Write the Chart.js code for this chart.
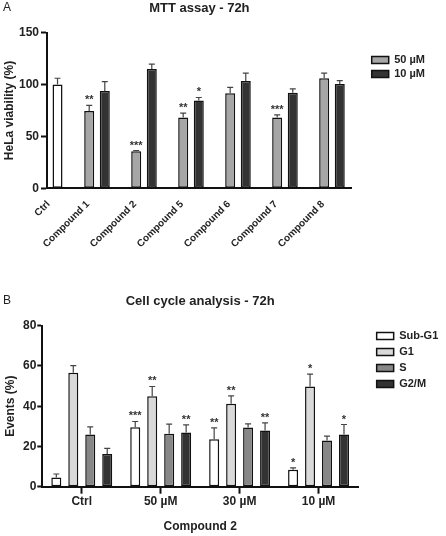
<!DOCTYPE html>
<html>
<head>
<meta charset="utf-8">
<title>MTT assay / Cell cycle analysis</title>
<script src="https://cdn.jsdelivr.net/npm/chart.js@4.4.1/dist/chart.umd.min.js"></script>
<style>
  html, body { margin: 0; padding: 0; background: #fff; }
  #page { position: relative; width: 446px; height: 536px; overflow: hidden; font-family: "Liberation Sans", Arial, sans-serif; }
  canvas { position: absolute; left: 0; }
  .painel { position: absolute; left: 3px; font-size: 12px; color: #222; }
</style>
</head>
<body>
<div id="page">
  <canvas id="graficoMtt" width="446" height="262" style="top:0px"></canvas>
  <canvas id="graficoCiclo" width="446" height="266" style="top:270px"></canvas>
  <div class="painel" style="top:0px">A</div>
  <div class="painel" style="top:293px">B</div>
</div>
<script>
// ======================================
// Data - A: MTT assay (72h)
// ======================================
const compounds = ["Ctrl", "Compound 1", "Compound 2", "Compound 5", "Compound 6", "Compound 7", "Compound 8"];
const ctrlViability = [100];
const ctrlError = [6];
const viability50 = [74.5, 35.7, 68.3, 91.5, 68.3, 106];
const error50 = [5.3, 0.7, 4.1, 5.7, 2.5, 5];
const stars50 = ["**", "***", "**", "", "***", ""];
const viability10 = [93.7, 115, 84.6, 103.3, 92, 100.6];
const error10 = [9, 4.6, 2.9, 7.7, 3.8, 3.2];
const stars10 = ["", "", "*", "", "", ""];
const viabilityTicks = [0, 50, 100, 150];

// ======================================
// Data - B: Cell cycle analysis (72h)
// ======================================
const doses = ["Ctrl", "50 µM", "30 µM", "10 µM"];
const subG1 = [4.6, 29.6, 23.6, 8.4];
const subG1Err = [1.7, 2.8, 5.6, 1.0];
const subG1Stars = ["", "***", "**", "*"];
const g1 = [56.6, 45, 41.2, 49.8];
const g1Err = [3.6, 4.8, 3.9, 6.1];
const g1Stars = ["", "**", "**", "*"];
const sPhase = [25.9, 26.3, 29.4, 22.9];
const sErr = [3.8, 4.8, 1.8, 2.2];
const g2m = [16.2, 26.9, 27.9, 25.9];
const g2mErr = [2.8, 3.8, 3.8, 5];
const g2mStars = ["", "**", "**", "*"];
const eventTicks = [0, 20, 40, 60, 80];

Chart.defaults.font.family = '"Liberation Sans", Arial, sans-serif';
Chart.defaults.color = "#222";

// error bars (upper half) + significance stars
const errorBars = {
  id: "errorBars",
  afterDatasetsDraw(chart) {
    const ctx = chart.ctx;
    const yScale = chart.scales.y;
    chart.data.datasets.forEach((ds, di) => {
      const meta = chart.getDatasetMeta(di);
      meta.data.forEach((bar, i) => {
        const raw = ds.data[i];
        const v = (raw !== null && typeof raw === "object") ? raw.y : raw;
        if (v === null || v === undefined) return;
        const err = ds.errors ? ds.errors[i] : 0;
        const top = yScale.getPixelForValue(v + err);
        ctx.save();
        ctx.strokeStyle = "#444";
        ctx.lineWidth = 1.2;
        ctx.beginPath();
        ctx.moveTo(bar.x, bar.y);
        ctx.lineTo(bar.x, top);
        ctx.moveTo(bar.x - 3, top);
        ctx.lineTo(bar.x + 3, top);
        ctx.stroke();
        const star = ds.stars ? ds.stars[i] : "";
        if (star) {
          ctx.fillStyle = "#333";
          ctx.font = 'bold 11px "Liberation Sans", Arial, sans-serif';
          ctx.textAlign = "center";
          ctx.textBaseline = "alphabetic";
          ctx.fillText(star, bar.x, top - 2);
        }
        ctx.restore();
      });
    });
  }
};

const axisBorder = { display: true, color: "#111", width: 2 };
const tickGrid = { drawOnChartArea: false, drawTicks: true, tickWidth: 2, tickColor: "#111" };

// ======================================
// Chart A
// ======================================
const mttRight = 351.7;
const mttPadRight = 11;

function groupX(i) {
  return i === 0 ? 0.16 : i;
}

function pad(values, arr) {
  return compounds.map((c, i) => i === 0 ? null : arr[i - 1]);
}

new Chart(document.getElementById("graficoMtt"), {
  type: "bar",
  data: {
    datasets: [
      {
        label: "Ctrl",
        data: compounds.map((c, i) => ({ x: groupX(i), y: i === 0 ? ctrlViability[0] : null })),
        errors: compounds.map((c, i) => i === 0 ? ctrlError[0] : null),
        stars: compounds.map(() => ""),
        backgroundColor: "#ffffff",
        xAxisID: "x", yAxisID: "y"
      },
      {
        label: "50 µM",
        data: compounds.map((c, i) => ({ x: groupX(i), y: i === 0 ? null : viability50[i - 1] })),
        errors: pad(compounds, error50),
        stars: pad(compounds, stars50),
        backgroundColor: "#a6a6a6",
        xAxisID: "x", yAxisID: "y"
      },
      {
        label: "10 µM",
        data: compounds.map((c, i) => ({ x: groupX(i), y: i === 0 ? null : viability10[i - 1] })),
        errors: pad(compounds, error10),
        stars: pad(compounds, stars10),
        backgroundColor: "#333333",
        xAxisID: "x", yAxisID: "y"
      }
    ]
  },
  options: {
    responsive: false,
    animation: false,
    devicePixelRatio: 1,
    layout: { padding: { left: 0, right: mttPadRight, top: 0, bottom: 0 } },
    datasets: {
      bar: {
        borderColor: "#111",
        borderWidth: 1.5,
        borderSkipped: false,
        skipNull: true,
        categoryPercentage: 0.79,
        barPercentage: 0.7,
        maxBarThickness: 10
      }
    },
    scales: {
      x: {
        type: "linear",
        offset: false,
        min: -0.064,
        max: 6.42,
        afterFit: s => { s.height = 73.7; },
        afterBuildTicks: s => { s.ticks = compounds.map((c, i) => ({ value: groupX(i) })); },
        grid: { display: false, drawTicks: false, offset: false },
        border: axisBorder,
        ticks: {
          autoSkip: false,
          minRotation: 45,
          maxRotation: 45,
          padding: 10,
          labelOffset: -9,
          font: { size: 10, weight: "bold" },
          callback: (v, i) => compounds[i]
        }
      },
      y: {
        min: 0,
        max: 150,
        afterFit: s => { s.width = 47; },
        afterBuildTicks: s => { s.ticks = viabilityTicks.map(v => ({ value: v })); },
        grid: Object.assign({ tickLength: 6 }, tickGrid),
        border: axisBorder,
        ticks: { padding: 2, font: { size: 12, weight: "bold" } },
        title: {
          display: true,
          text: "HeLa viability (%)",
          font: { size: 12, weight: "bold" },
          padding: { top: 2, bottom: 0 }
        }
      },
      spacer: {
        type: "linear",
        axis: "y",
        position: "right",
        grid: { display: false, drawTicks: false },
        border: { display: false },
        ticks: { display: false },
        afterFit: s => {
          const lw = s.chart.legend ? s.chart.legend.width : 0;
          s.width = Math.max(0, s.chart.width - mttPadRight - lw - mttRight);
        }
      }
    },
    plugins: {
      title: {
        display: true,
        text: "MTT assay - 72h",
        fullSize: false,
        font: { size: 13, weight: "bold" },
        padding: { top: 1, bottom: 16 }
      },
      legend: {
        position: "right",
        align: "start",
        title: { display: true, text: "", font: { size: 10 }, padding: { top: 39.5, bottom: 0 } },
        labels: {
          boxWidth: 17,
          boxHeight: 7,
          padding: 3,
          font: { size: 11, weight: "bold" },
          filter: item => item.datasetIndex !== 0
        }
      },
      tooltip: { enabled: false }
    }
  },
  plugins: [errorBars]
});

// ======================================
// Chart B
// ======================================
const cicloRight = 358;
const cicloPadRight = 0;

new Chart(document.getElementById("graficoCiclo"), {
  type: "bar",
  data: {
    labels: doses,
    datasets: [
      { label: "Sub-G1", data: subG1, errors: subG1Err, stars: subG1Stars, backgroundColor: "#ffffff", yAxisID: "y" },
      { label: "G1", data: g1, errors: g1Err, stars: g1Stars, backgroundColor: "#d9d9d9", yAxisID: "y" },
      { label: "S", data: sPhase, errors: sErr, stars: [], backgroundColor: "#878787", yAxisID: "y" },
      { label: "G2/M", data: g2m, errors: g2mErr, stars: g2mStars, backgroundColor: "#333333", yAxisID: "y" }
    ]
  },
  options: {
    responsive: false,
    animation: false,
    devicePixelRatio: 1,
    layout: { padding: { left: 0, right: cicloPadRight, top: 0, bottom: 0 } },
    datasets: {
      bar: {
        borderColor: "#111",
        borderWidth: 1.5,
        borderSkipped: false,
        categoryPercentage: 0.86,
        barPercentage: 0.59
      }
    },
    scales: {
      x: {
        afterFit: s => { s.height = 49.3; },
        grid: Object.assign({ tickLength: 7, offset: false }, tickGrid),
        border: axisBorder,
        ticks: { padding: 1, font: { size: 12, weight: "bold" } },
        title: {
          display: true,
          text: "Compound 2",
          font: { size: 12, weight: "bold" },
          padding: { top: 0, bottom: 2 }
        }
      },
      y: {
        min: 0,
        max: 80,
        afterFit: s => { s.width = 42.3; },
        afterBuildTicks: s => { s.ticks = eventTicks.map(v => ({ value: v })); },
        grid: Object.assign({ tickLength: 5 }, tickGrid),
        border: axisBorder,
        ticks: { padding: 1, font: { size: 12, weight: "bold" } },
        title: {
          display: true,
          text: "Events (%)",
          font: { size: 12, weight: "bold" },
          padding: { top: 3, bottom: 0 }
        }
      },
      spacer: {
        type: "linear",
        axis: "y",
        position: "right",
        grid: { display: false, drawTicks: false },
        border: { display: false },
        ticks: { display: false },
        afterFit: s => {
          const lw = s.chart.legend ? s.chart.legend.width : 0;
          s.width = Math.max(0, s.chart.width - cicloPadRight - lw - cicloRight);
        }
      }
    },
    plugins: {
      title: {
        display: true,
        text: "Cell cycle analysis - 72h",
        fullSize: false,
        font: { size: 13, weight: "bold" },
        padding: { top: 24, bottom: 16.1 }
      },
      legend: {
        position: "right",
        align: "start",
        title: { display: true, text: "", font: { size: 10 }, padding: { top: 43.5, bottom: 0 } },
        labels: {
          boxWidth: 17,
          boxHeight: 7,
          padding: 5,
          font: { size: 11, weight: "bold" }
        }
      },
      tooltip: { enabled: false }
    }
  },
  plugins: [errorBars]
});
</script>
</body>
</html>
